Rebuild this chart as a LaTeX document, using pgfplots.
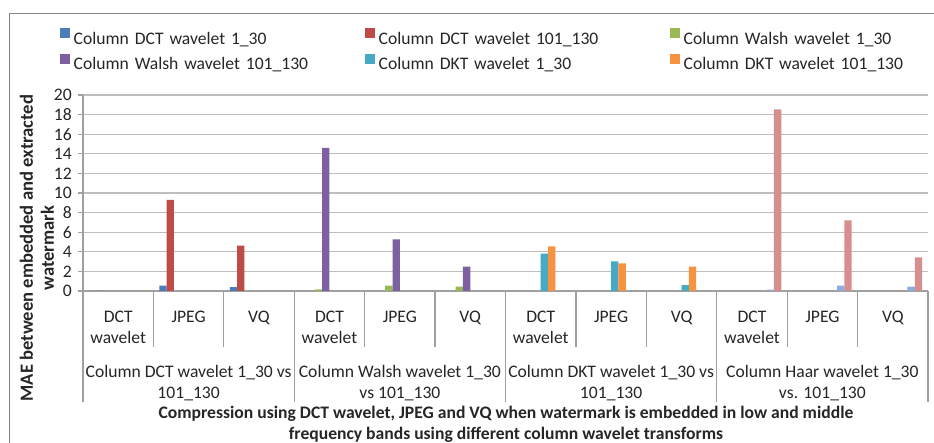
\documentclass[border=0pt]{standalone}
\usepackage{pgfplots}
\pgfplotsset{compat=1.18}
\usepackage{fontspec}
\setmainfont{Carlito}
\definecolor{cA}{HTML}{4A7EBB}
\definecolor{cB}{HTML}{BE4B48}
\definecolor{cC}{HTML}{98B954}
\definecolor{cD}{HTML}{7D60A0}
\definecolor{cE}{HTML}{46AAC5}
\definecolor{cF}{HTML}{F69240}
\definecolor{cG}{HTML}{8FAADC}
\definecolor{cH}{HTML}{D68F8F}
\definecolor{axgray}{HTML}{A0A0A0}
\definecolor{grgray}{HTML}{BEBEBE}
\definecolor{frgray}{HTML}{858585}
\definecolor{txt}{HTML}{262626}
\newcommand{\fs}{\fontsize{17.6}{21}\selectfont}
\begin{document}
\begin{tikzpicture}[font=\fs, text=txt]
\useasboundingbox (0,0) rectangle (934pt,443pt);
\fill[white] (0,0) rectangle (934pt,443pt);
\draw[line width=1.5pt, frgray] (9.3pt,0) -- (9.3pt,429.7pt) -- (934pt,429.7pt);
\begin{axis}[
  at={(83pt,152pt)}, anchor=south west, scale only axis,
  width=845pt, height=196pt,
  xmin=-0.5, xmax=11.5, ymin=0, ymax=20,
  ytick={0,2,...,20}, xtick={0,...,11},
  xticklabels={{DCT\\wavelet},JPEG,VQ,{DCT\\wavelet},JPEG,VQ,{DCT\\wavelet},JPEG,VQ,{DCT\\wavelet},JPEG,VQ},
  tick label style={font=\fs, text=txt},
  xticklabel style={align=center, anchor=north, inner sep=0pt, yshift=-14.5pt},
  yticklabel style={anchor=east, inner sep=0pt, xshift=-6pt},
  /pgf/number format/assume math mode=true,
  axis x line*=bottom, axis y line*=left,
  axis line style={draw=axgray, line width=1.3pt, -},
  xtick style={draw=none},
  ytick style={draw=axgray, line width=1.2pt},
  tick align=outside, major tick length=5pt, ytick pos=left,
  ymajorgrids, grid style={draw=grgray, line width=1.3pt},
  clip=false,
  legend columns=3,
  legend cell align=left,
  legend image code/.code={\fill[#1,draw=none] (0pt,0.5pt) rectangle (10pt,10.5pt);},
  legend style={at={(axis description cs:-0.0272,1.342)}, anchor=north west,
    draw=none, fill=none, inner sep=0pt, column sep=3.5pt, row sep=8.5pt,
    font=\fs, nodes={text width=288pt, inner sep=0pt, text=txt}},
]
\addplot[ybar, bar width=0.104, bar shift=-0.364, fill=cA, draw=none] coordinates {(0,0) (1,0.54) (2,0.40)};
\addlegendentry{Column DCT wavelet 1\_30}
\addplot[ybar, bar width=0.104, bar shift=-0.260, fill=cB, draw=none] coordinates {(0,0) (1,9.30) (2,4.63)};
\addlegendentry{Column DCT wavelet 101\_130}
\addplot[ybar, bar width=0.104, bar shift=-0.156, fill=cC, draw=none] coordinates {(3,0.17) (4,0.54) (5,0.44)};
\addlegendentry{Column Walsh wavelet 1\_30}
\addplot[ybar, bar width=0.104, bar shift=-0.052, fill=cD, draw=none] coordinates {(3,14.6) (4,5.27) (5,2.48)};
\addlegendentry{Column Walsh wavelet 101\_130}
\addplot[ybar, bar width=0.104, bar shift=0.052, fill=cE, draw=none] coordinates {(6,3.81) (7,3.03) (8,0.61)};
\addlegendentry{Column DKT wavelet 1\_30}
\addplot[ybar, bar width=0.104, bar shift=0.156, fill=cF, draw=none] coordinates {(6,4.56) (7,2.82) (8,2.48)};
\addlegendentry{Column DKT wavelet 101\_130}
\addplot[ybar, bar width=0.104, bar shift=0.260, fill=cG, draw=none, forget plot] coordinates {(9,0.14) (10,0.54) (11,0.44)};
\addplot[ybar, bar width=0.104, bar shift=0.364, fill=cH, draw=none, forget plot] coordinates {(9,18.54) (10,7.21) (11,3.44)};
% category separators
\pgfplotsinvokeforeach{-0.5,2.5,5.5,8.5,11.5}{
  \draw[axgray, line width=1.3pt] (axis cs:#1,0) -- ++(0pt,-111pt);
}
\pgfplotsinvokeforeach{0.5,1.5,3.5,4.5,6.5,7.5,9.5,10.5}{
  \draw[axgray, line width=1.3pt] (axis cs:#1,0) -- ++(0pt,-56pt);
}
\node[align=center, font=\fs, yshift=-92pt] at (axis cs:1,0) {Column DCT wavelet 1\_30 vs\\101\_130};
\node[align=center, font=\fs, yshift=-92pt] at (axis cs:4,0) {Column Walsh wavelet 1\_30\\vs 101\_130};
\node[align=center, font=\fs, yshift=-92pt] at (axis cs:7,0) {Column DKT wavelet 1\_30 vs\\101\_130};
\node[align=center, font=\fs, yshift=-92pt] at (axis cs:10,0) {Column Haar wavelet 1\_30\\vs. 101\_130};
\end{axis}
\node[align=center, font=\fs\bfseries] at (506pt,18.5pt) {Compression using DCT wavelet, JPEG and VQ when watermark is embedded in low and middle\\frequency bands using different column wavelet transforms};
\node[align=center, font=\fontsize{18.6}{21}\selectfont\bfseries, rotate=90] at (37pt,195pt) {MAE between embedded and extracted\\watermark};
\end{tikzpicture}
\end{document}
